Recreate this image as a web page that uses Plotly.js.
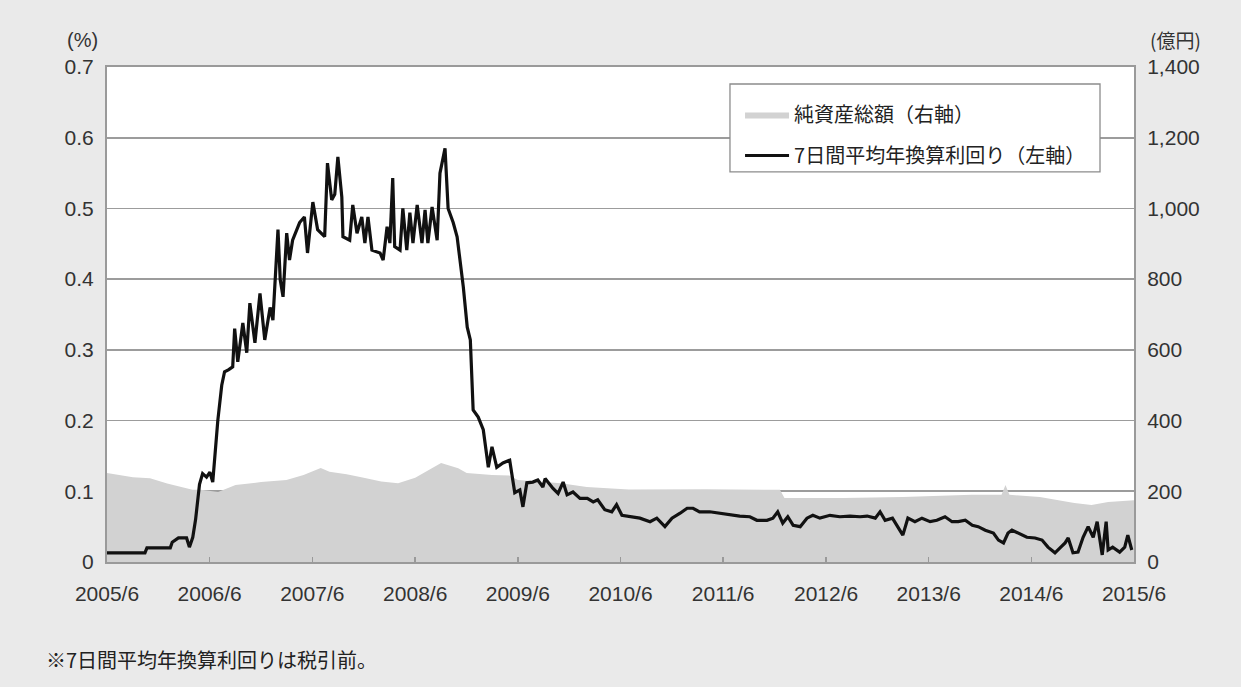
<!DOCTYPE html>
<html>
<head>
<meta charset="utf-8">
<script src="https://cdn.plot.ly/plotly-3.0.1.min.js"></script>
<style>
  html, body { margin: 0; padding: 0; background: #eaeaea; }
  #chart { width: 1241px; height: 687px; }
</style>
</head>
<body>
<div id="chart"></div>
<script>
// 7日間平均年換算利回り (%, left axis)
const yieldDates = [
  '2005-06-01','2005-10-14','2005-10-21','2006-01-12','2006-01-19','2006-02-10','2006-03-11','2006-03-21',
  '2006-04-02','2006-04-12','2006-04-26','2006-05-07','2006-05-21','2006-06-02','2006-06-12','2006-06-22',
  '2006-06-30','2006-07-14','2006-07-24','2006-08-08','2006-08-22','2006-08-29','2006-09-09','2006-09-27',
  '2006-10-11','2006-10-22','2006-11-09','2006-11-27','2006-12-14','2007-01-02','2007-01-12','2007-01-30',
  '2007-02-07','2007-02-17','2007-03-02','2007-03-12','2007-03-23','2007-04-17','2007-05-04','2007-05-15',
  '2007-06-03','2007-06-20','2007-07-15','2007-07-25','2007-08-09','2007-08-20','2007-08-31','2007-09-14',
  '2007-09-18','2007-10-12','2007-10-23','2007-11-07','2007-11-24','2007-12-05','2007-12-16','2007-12-30',
  '2008-01-28','2008-02-08','2008-02-22','2008-03-03','2008-03-13','2008-03-20','2008-04-08','2008-04-18',
  '2008-05-02','2008-05-13','2008-05-24','2008-06-08','2008-06-25','2008-07-06','2008-07-16','2008-07-31',
  '2008-08-18','2008-08-28','2008-09-15','2008-09-26','2008-10-14','2008-10-28','2008-11-08','2008-11-19',
  '2008-12-03','2008-12-14','2008-12-24','2009-01-11','2009-01-29','2009-02-16','2009-03-01','2009-03-18',
  '2009-04-09','2009-05-03','2009-05-21','2009-06-08','2009-06-19','2009-07-03','2009-07-24','2009-08-11',
  '2009-08-29','2009-09-06','2009-10-04','2009-10-22','2009-11-09','2009-11-23','2009-12-14','2010-01-08',
  '2010-02-03','2010-02-24','2010-03-12','2010-04-06','2010-05-01','2010-05-18','2010-06-06','2010-07-04',
  '2010-08-09','2010-09-14','2010-10-08','2010-11-06','2010-12-01','2010-12-30','2011-01-24','2011-02-14',
  '2011-03-09','2011-04-14','2011-05-19','2011-06-24','2011-07-30','2011-09-04','2011-09-29','2011-11-04',
  '2011-11-25','2011-12-12','2011-12-30','2012-01-17','2012-02-05','2012-03-01','2012-03-25','2012-04-15',
  '2012-05-10','2012-06-15','2012-07-20','2012-08-25','2012-09-30','2012-10-25','2012-11-23','2012-12-10',
  '2012-12-28','2013-01-23','2013-02-10','2013-03-01','2013-03-19','2013-04-13','2013-05-08','2013-06-06',
  '2013-06-30','2013-07-29','2013-08-23','2013-09-14','2013-10-09','2013-11-03','2013-11-24','2013-12-19',
  '2014-01-17','2014-02-04','2014-02-22','2014-03-10','2014-03-24','2014-04-14','2014-05-16','2014-06-14',
  '2014-07-09','2014-07-30','2014-08-24','2014-09-11','2014-09-29','2014-10-10','2014-10-27','2014-11-14',
  '2014-12-02','2014-12-20','2015-01-07','2015-01-21','2015-02-08','2015-02-22','2015-03-01','2015-03-17',
  '2015-04-11','2015-04-29','2015-05-10','2015-05-24'
];
const yieldValues = [
  0.013,0.013,0.020,0.020,0.028,0.034,0.034,0.021,
  0.035,0.060,0.110,0.125,0.120,0.127,0.113,0.170,
  0.200,0.250,0.269,0.272,0.276,0.330,0.283,0.338,
  0.296,0.366,0.310,0.380,0.314,0.360,0.342,0.470,
  0.399,0.375,0.465,0.427,0.455,0.480,0.488,0.437,
  0.509,0.470,0.460,0.564,0.512,0.520,0.573,0.516,
  0.460,0.455,0.505,0.465,0.488,0.451,0.488,0.441,
  0.437,0.427,0.474,0.451,0.543,0.446,0.441,0.500,
  0.441,0.494,0.451,0.505,0.451,0.498,0.451,0.502,
  0.455,0.550,0.585,0.500,0.480,0.460,0.427,0.389,
  0.332,0.314,0.215,0.205,0.187,0.134,0.163,0.134,
  0.140,0.144,0.098,0.102,0.078,0.112,0.113,0.116,
  0.106,0.118,0.104,0.097,0.113,0.095,0.099,0.090,
  0.090,0.085,0.088,0.074,0.071,0.081,0.066,0.064,
  0.062,0.057,0.062,0.050,0.062,0.069,0.076,0.076,
  0.071,0.071,0.069,0.066,0.065,0.064,0.059,0.059,
  0.062,0.071,0.055,0.064,0.052,0.050,0.062,0.066,
  0.062,0.066,0.064,0.065,0.064,0.065,0.062,0.071,
  0.059,0.062,0.050,0.038,0.062,0.057,0.062,0.057,
  0.059,0.064,0.057,0.057,0.059,0.052,0.050,0.045,
  0.041,0.031,0.027,0.041,0.045,0.041,0.035,0.034,
  0.031,0.021,0.013,0.020,0.027,0.034,0.013,0.014,
  0.035,0.050,0.035,0.057,0.010,0.057,0.017,0.021,
  0.014,0.021,0.038,0.017
];

// 純資産総額 (億円, right axis)
const assetDates = [
  '2005-06-01','2005-09-01','2005-11-01','2006-01-01','2006-04-01','2006-05-01','2006-07-01','2006-09-01',
  '2006-12-01','2007-03-01','2007-05-01','2007-07-01','2007-08-01','2007-10-01','2007-12-01','2008-02-01',
  '2008-04-01','2008-06-01','2008-09-01','2008-11-01','2008-12-01','2009-03-01','2009-05-01','2009-06-01',
  '2009-11-01','2010-02-01','2010-05-01','2010-07-01','2011-04-01','2011-12-20','2012-01-05','2012-08-01',
  '2013-03-01','2013-11-01','2014-02-15','2014-03-01','2014-03-15','2014-07-01','2014-11-01','2015-01-01',
  '2015-03-01','2015-06-01'
];
const assetValues = [
  252,240,237,222,204,204,198,218,
  226,232,246,266,255,248,238,228,
  223,238,280,265,252,246,245,232,
  223,212,208,205,206,204,181,181,
  184,190,190,218,190,184,167,161,
  170,175
];

const xTickVals = ['2005-06-01','2006-06-01','2007-06-01','2008-06-01','2009-06-01','2010-06-01',
                   '2011-06-01','2012-06-01','2013-06-01','2014-06-01','2015-06-01'];
const xTickText = ['2005/6','2006/6','2007/6','2008/6','2009/6','2010/6',
                   '2011/6','2012/6','2013/6','2014/6','2015/6'];

const assetName = '純資産総額（右軸）';
const yieldName = '7日間平均年換算利回り（左軸）';
const unitLeft = '(%)';
const unitRight = '(億円)';
const footnote = '※7日間平均年換算利回りは税引前。';

const FONT = 'Liberation Sans, Arial, Noto Sans CJK JP, sans-serif';
const JFONT = 'Noto Sans CJK JP, Liberation Sans, sans-serif';

const traces = [
  {
    x: assetDates, y: assetValues, name: assetName, type: 'scatter', mode: 'lines',
    fill: 'tozeroy', fillcolor: '#d2d2d2', line: {color: '#d2d2d2', width: 0},
    yaxis: 'y', legendgroup: 'a', hoverinfo: 'skip'
  },
  {
    x: yieldDates, y: yieldValues, name: yieldName, type: 'scatter', mode: 'lines',
    line: {color: '#111111', width: 3.2}, yaxis: 'y2', legendgroup: 'b'
  }
];

const layout = {
  width: 1241, height: 687,
  margin: {l: 107, r: 107, t: 67, b: 125, pad: 0},
  paper_bgcolor: '#eaeaea',
  plot_bgcolor: '#ffffff',
  font: {family: FONT, size: 21, color: '#333333'},
  showlegend: true,
  legend: {
    x: 0.6164, y: 0.9434, xanchor: 'left', yanchor: 'top',
    bgcolor: 'rgba(0,0,0,0)', borderwidth: 0,
    font: {family: JFONT, size: 20, color: '#222222'},
    traceorder: 'grouped', tracegroupgap: 12, itemwidth: 44
  },
  shapes: [
    {type: 'rect', xref: 'paper', yref: 'paper', x0: 0.6066, x1: 0.9669, y0: 0.788, y1: 0.9657,
     fillcolor: '#ffffff', line: {color: '#8c8c8c', width: 1.3}, layer: 'above'}
  ],
  xaxis: {
    type: 'date',
    range: ['2005-06-01', '2015-06-01'],
    tickmode: 'array', tickvals: xTickVals, ticktext: xTickText,
    ticks: 'inside', ticklen: 5, tickcolor: '#999999', tickwidth: 1.5,
    showgrid: false, zeroline: false,
    showline: true, mirror: true, linecolor: '#9a9a9a', linewidth: 2,
    tickfont: {family: FONT, size: 21, color: '#333333'},
    ticklabelstandoff: 12
  },
  yaxis: {
    side: 'right',
    range: [0, 1400], dtick: 200, tick0: 0, tickformat: ',d',
    showgrid: true, gridcolor: '#9c9c9c', gridwidth: 1.6,
    zeroline: false, showline: true, linecolor: '#9a9a9a', linewidth: 2,
    ticks: '', tickfont: {family: FONT, size: 21, color: '#333333'},
    ticklabelstandoff: 7
  },
  yaxis2: {
    overlaying: 'y', side: 'left',
    range: [0, 0.7], dtick: 0.1, tick0: 0,
    showgrid: false, zeroline: false, showline: true, linecolor: '#9a9a9a', linewidth: 2,
    ticks: '', tickfont: {family: FONT, size: 21, color: '#333333'},
    ticklabelstandoff: 7
  },
  annotations: [
    {text: unitLeft, xref: 'paper', yref: 'paper', x: -0.024, y: 1.055, xanchor: 'center', yanchor: 'middle',
     showarrow: false, font: {family: FONT, size: 20, color: '#333333'}},
    {text: unitRight, xref: 'paper', yref: 'paper', x: 1.04, y: 1.055, xanchor: 'center', yanchor: 'middle',
     showarrow: false, font: {family: JFONT, size: 19, color: '#333333'}},
    {text: footnote, xref: 'paper', yref: 'paper', x: -0.061, y: -0.196, xanchor: 'left', yanchor: 'middle',
     showarrow: false, font: {family: JFONT, size: 20, color: '#222222'}}
  ]
};

Plotly.newPlot('chart', traces, layout, {displayModeBar: false, staticPlot: true});
</script>
</body>
</html>
